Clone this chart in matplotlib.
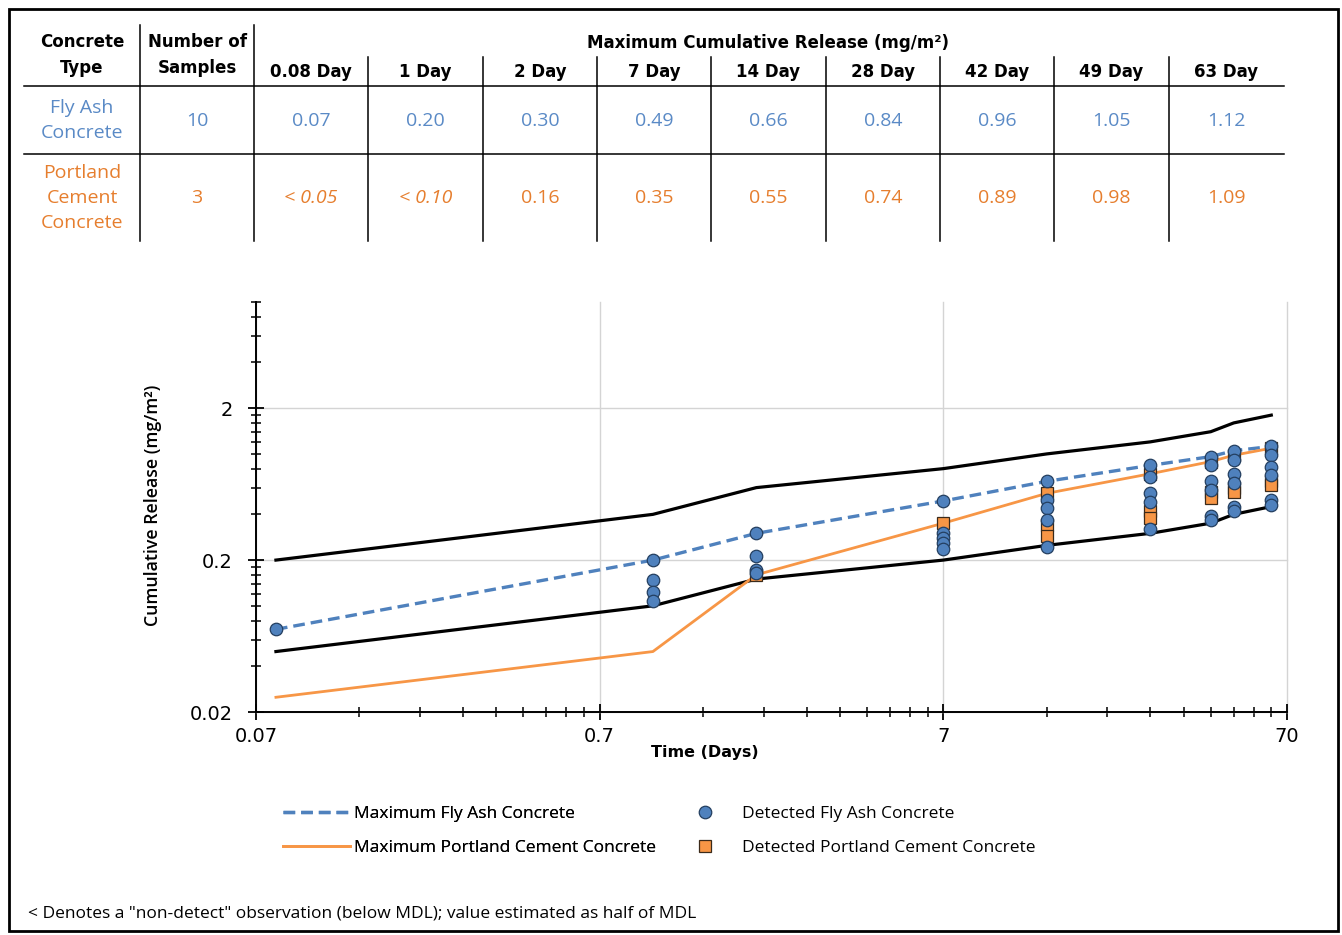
import numpy as np
import matplotlib
matplotlib.use("Agg")
import matplotlib.pyplot as plt
from matplotlib.patches import Rectangle

# //- data
days = [0.08, 1, 2, 7, 14, 28, 42, 49, 63]
day_labels = ["0.08 Day", "1 Day", "2 Day", "7 Day", "14 Day", "28 Day", "42 Day", "49 Day", "63 Day"]

fa_max = [0.07, 0.20, 0.30, 0.49, 0.66, 0.84, 0.96, 1.05, 1.12]
pc_max = [0.025, 0.05, 0.16, 0.35, 0.55, 0.74, 0.89, 0.98, 1.09]   # non-detects at half MDL
ml = [0.2, 0.4, 0.6, 0.8, 1.0, 1.2, 1.4, 1.6, 1.8]
mdl = [0.05, 0.10, 0.15, 0.20, 0.25, 0.30, 0.35, 0.40, 0.45]

fa_table = ["0.07", "0.20", "0.30", "0.49", "0.66", "0.84", "0.96", "1.05", "1.12"]
pc_table = ["< 0.05", "< 0.10", "0.16", "0.35", "0.55", "0.74", "0.89", "0.98", "1.09"]
fa_samples = "10"
pc_samples = "3"

# detected single-sample values, one list per day
fa_detected = [
    [0.07],
    [0.20, 0.148, 0.124, 0.107],
    [0.30, 0.213, 0.172, 0.165],
    [0.49, 0.30, 0.278, 0.258, 0.236],
    [0.66, 0.50, 0.44, 0.37, 0.245],
    [0.84, 0.71, 0.55, 0.48, 0.32],
    [0.96, 0.84, 0.66, 0.58, 0.39, 0.37],
    [1.05, 0.91, 0.74, 0.64, 0.45, 0.42],
    [1.12, 0.98, 0.82, 0.73, 0.50, 0.46],
]
pc_detected = [
    [],
    [],
    [0.16],
    [0.35],
    [0.55, 0.34, 0.29],
    [0.74, 0.42, 0.38],
    [0.89, 0.56, 0.51],
    [0.98, 0.60, 0.56],
    [1.09, 0.66, 0.62],
]

xticks = [0.07, 0.7, 7, 70]
yticks = [0.02, 0.2, 2]

# //- colours / fonts
BLUE = "#4F81BD"
ORANGE = "#F79646"
BLUE_TXT = "#5A8AC6"
ORANGE_TXT = "#E67E2E"
BODY = "Open Sans"
HEAD = "DejaVu Sans"

W, H = 1342, 935
fig = plt.figure(figsize=(W / 100, H / 100), dpi=100)

# overlay axes in pixel coordinates for table, labels and frame
ov = fig.add_axes([0, 0, 1, 1])
ov.set_xlim(0, W)
ov.set_ylim(H, 0)
ov.axis("off")

ov.add_patch(Rectangle((9, 9), 1329, 922, fill=False, ec="black", lw=2))

# table grid
for y in [86, 154]:
    ov.plot([24, 1284], [y, y], color="black", lw=1.1)
for x in [140, 254]:
    ov.plot([x, x], [25, 241], color="black", lw=1.1)
col_edges = [254, 368, 483, 597, 711, 826, 940, 1054, 1169, 1284]
for x in col_edges[1:-1]:
    ov.plot([x, x], [57, 241], color="black", lw=1.1)

hkw = dict(family=HEAD, weight="bold", fontsize=12, ha="center", va="center")
ov.text(82, 42, "Concrete", **hkw)
ov.text(82, 68, "Type", **hkw)
ov.text(197, 42, "Number of", **hkw)
ov.text(197, 68, "Samples", **hkw)
ov.text(768, 43, "Maximum Cumulative Release (mg/m²)", **hkw)

centers = [(a + b) / 2 for a, b in zip(col_edges[:-1], col_edges[1:])]
for cx, lab in zip(centers, day_labels):
    ov.text(cx, 72, lab, **hkw)

bkw = dict(family=BODY, fontsize=14, ha="center", va="center")
ov.text(82, 108, "Fly Ash", color=BLUE_TXT, **bkw)
ov.text(82, 133, "Concrete", color=BLUE_TXT, **bkw)
ov.text(197, 121, fa_samples, color=BLUE_TXT, **bkw)
for cx, v in zip(centers, fa_table):
    ov.text(cx, 121, v, color=BLUE_TXT, **bkw)

ov.text(82, 173, "Portland", color=ORANGE_TXT, **bkw)
ov.text(82, 198, "Cement", color=ORANGE_TXT, **bkw)
ov.text(82, 223, "Concrete", color=ORANGE_TXT, **bkw)
ov.text(197, 198, pc_samples, color=ORANGE_TXT, **bkw)
for cx, v in zip(centers, pc_table):
    ov.text(cx, 198, v, color=ORANGE_TXT, style="italic" if v.startswith("<") else "normal", **bkw)

# //- chart
ax = fig.add_axes([256 / W, 1 - 712 / H, (1287 - 256) / W, (712 - 302) / H])
ax.set_xscale("log")
ax.set_yscale("log")

ax.plot(days, ml, color="black", lw=2.3, zorder=3)
ax.plot(days, mdl, color="black", lw=2.3, zorder=3)
l_fa, = ax.plot(days, fa_max, color=BLUE, lw=2.4, ls=(0, (3.5, 1.8)), zorder=3)
l_pc, = ax.plot(days, pc_max, color=ORANGE, lw=2.0, zorder=3)

pc_x = np.repeat(days, [len(v) for v in pc_detected])
pc_y = np.concatenate([np.array(v, dtype=float) for v in pc_detected])
fa_x = np.repeat(days, [len(v) for v in fa_detected])
fa_y = np.concatenate([np.array(v, dtype=float) for v in fa_detected])
s_pc, = ax.plot(pc_x, pc_y, ls="none", marker="s", ms=8, mfc=ORANGE, mec="#3B2A1A", mew=0.9, zorder=4)
s_fa, = ax.plot(fa_x, fa_y, ls="none", marker="o", ms=9, mfc=BLUE, mec="#243F60", mew=0.9, zorder=5)

ax.set_xlim(0.07, 70)
ax.set_ylim(0.02, 10)
ax.set_xticks(xticks)
ax.set_xticklabels(["0.07", "0.7", "7", "70"])
ax.set_yticks(yticks)
ax.set_yticklabels(["0.02", "0.2", "2"])
ax.set_xticks([0.07 * k * 10 ** d for d in range(3) for k in range(2, 10)], minor=True)
ax.set_yticks([v for v in (0.02 * k * 10 ** d for d in range(3) for k in range(2, 10)) if v <= 10.001], minor=True)
ax.xaxis.set_minor_formatter(plt.NullFormatter())
ax.yaxis.set_minor_formatter(plt.NullFormatter())

ax.grid(which="major", color="#D4D4D4", lw=1.0, zorder=0)
for gl in ax.get_xgridlines() + ax.get_ygridlines():
    gl.set_clip_on(False)
for side in ["top", "right"]:
    ax.spines[side].set_visible(False)
for side in ["left", "bottom"]:
    ax.spines[side].set_linewidth(1.4)
ax.tick_params(which="major", direction="inout", length=11, width=1.3, labelsize=14)
ax.tick_params(which="minor", direction="inout", length=7.5, width=1.1)
ax.tick_params(axis="y", which="major", pad=11)
ax.tick_params(axis="x", which="major", pad=5)

# axis titles and ML / MDL tags
ov.text(705, 752, "Time (Days)", family=HEAD, weight="bold", fontsize=11.5, ha="center", va="center")
ov.text(153, 505, "Cumulative Release (mg/m²)", family=BODY, weight="semibold", fontsize=12.8,
        rotation=90, ha="center", va="center")
ov.text(277, 541, "ML", family=HEAD, weight="bold", fontsize=16, ha="left", va="center")
ov.text(277, 668, "MDL", family=HEAD, weight="bold", fontsize=16, ha="left", va="center")

# //- legend
lkw = dict(frameon=False, borderpad=0, handlelength=3.9, handletextpad=0.2, labelspacing=1.05,
           prop={"family": BODY, "size": 12.5}, loc="center left")
leg1 = fig.legend([l_fa, l_pc], ["Maximum Fly Ash Concrete", "Maximum Portland Cement Concrete"],
                  bbox_to_anchor=(274 / W, 1 - 831 / H), **lkw)
fig.add_artist(leg1)
fig.legend([s_fa, s_pc], ["Detected Fly Ash Concrete", "Detected Portland Cement Concrete"],
           bbox_to_anchor=(662 / W, 1 - 831 / H), **lkw)

ov.text(28, 913, '< Denotes a "non-detect" observation (below MDL); value estimated as half of MDL',
        family=BODY, fontsize=12.5, ha="left", va="center")

fig.savefig("out.png", dpi=100)
